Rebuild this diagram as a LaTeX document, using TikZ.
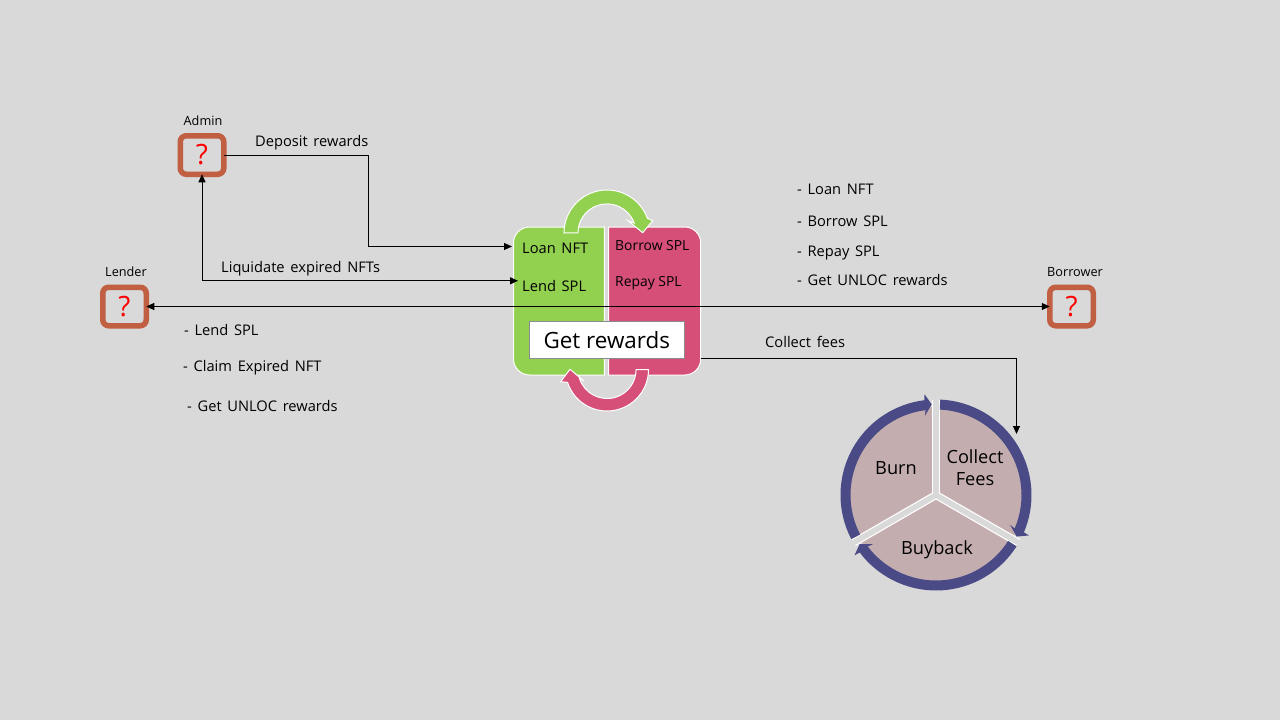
\documentclass[tikz,border=0pt]{standalone}
\usepackage{fontspec}
\setmainfont{Open Sans}
\newfontfamily\widefont[WordSpace=1.5]{Open Sans}
\usetikzlibrary{arrows.meta,calc}
\definecolor{bgc}{HTML}{D9D9D9}
\definecolor{grn}{HTML}{92D050}
\definecolor{pnk}{HTML}{D64F78}
\definecolor{rst}{HTML}{C05F41}
\definecolor{pie}{HTML}{C4ADAF}
\definecolor{pur}{HTML}{4A4A87}
\tikzset{
 x=1pt,y=1pt,
 actor/.style={draw=rst,line width=5.5pt,rounded corners=6pt,minimum width=43.5pt,minimum height=38.5pt,inner sep=0pt,outer sep=0pt,text=red,font=\fontsize{28}{30}\selectfont},
 actorlabel/.style={font=\fontsize{12.7}{14}\selectfont,inner sep=0pt},
 lbl/.style={anchor=west,inner sep=0pt,font=\widefont\fontsize{14.65}{17}\selectfont},
 lblsm/.style={anchor=west,inner sep=0pt,font=\fontsize{13.9}{17}\selectfont},
 conn/.style={draw=black,line width=0.9pt},
 tip/.style={-{Triangle[length=8pt,width=7pt]}},
 ringtxt/.style={inner sep=0pt,align=center,font=\fontsize{18.2}{22}\selectfont},
 panel/.style={draw=white,line width=1pt},
 ghost/.style={inner sep=0pt,outer sep=0pt},
}
\begin{document}
\begin{tikzpicture}
\useasboundingbox (0,0) rectangle (1280,-720);
\fill[bgc] (0,0) rectangle (1280,-720);
% panels
\path[panel,fill=grn] (604.3,-227) -- (604.3,-375) -- (529.5,-375) arc[start angle=270,end angle=180,radius=16] -- (513.5,-243) arc[start angle=180,end angle=90,radius=16] -- cycle;
\path[panel,fill=pnk] (608.7,-227) -- (608.7,-375) -- (684.7,-375) arc[start angle=-90,end angle=0,radius=16] -- (700.7,-243) arc[start angle=0,end angle=90,radius=16] -- cycle;
\node[ghost,minimum width=92pt,minimum height=148pt] (pinkpanel) at (654.7,-301) {};
% green arc
\path[panel,fill=grn] (564,-233) arc[start angle=180,end angle=20,radius=43] -- (652.7,-220.7) -- (642.7,-232.7) -- (628,-220.7) -- (634.2,-223) arc[start angle=20,end angle=180,radius=29] -- cycle;
% pink arc
\path[panel,fill=pnk] (648.5,-369.5) arc[start angle=0,end angle=-162,radius=41.5] -- (560.7,-381.7) -- (570,-369.3) -- (584,-381) -- (579.5,-378.5) arc[start angle=-162,end angle=0,radius=29] -- cycle;
% rewards
\node[draw=black!45,line width=1.2pt,fill=white,minimum width=155pt,minimum height=36.6pt,inner sep=0pt,outer sep=0pt,font=\fontsize{22.4}{26}\selectfont] (rewards) at (606.8,-340) {Get rewards};
% panel labels
\node[lbl,inner xsep=10pt] (loan) at (512,-248) {Loan NFT};
\node[lbl,inner xsep=4pt] (lend) at (518,-286) {Lend SPL};
\node[lblsm] (borrow) at (615,-246) {Borrow SPL};
\node[lblsm] (repay) at (615,-283) {Repay SPL};
% actors
\node[actor] (admin) at (202,-155) {?};
\node[actor] (lender) at (124.5,-306.5) {?};
\node[actor] (borrower) at (1071.5,-306.5) {?};
\node[actorlabel] (adminl) at (203,-121) {Admin};
\node[actorlabel] (lenderl) at (126,-272) {Lender};
\node[actorlabel] (borrowerl) at (1075,-272) {Borrower};
% connectors
\coordinate (depbend) at (368,-246.5);
\coordinate (feesin) at (1016.5,-434);
\draw[conn,tip] (admin.east) -| (depbend) -- (loan.west |- depbend);
\draw[conn,{Triangle[length=8pt,width=7pt]}-{Triangle[length=8pt,width=7pt]}] (admin.south) |- ($(lend.west)+(0,5.2)$);
\draw[conn,{Triangle[length=8pt,width=7pt]}-{Triangle[length=8pt,width=7pt]}] (lender.east) -- (borrower.west);
\draw[conn,tip] (pinkpanel.east |- rewards.south) -| (feesin);
% texts
\node[lbl] (t1) at (255,-143) {Deposit rewards};
\node[lbl] (t2) at (221,-269) {Liquidate expired NFTs};
\node[lbl] (t3) at (765,-342) {Collect fees};
\node[lbl] (t4) at (184,-330) {- Lend SPL};
\node[lbl] (t5) at (183,-368) {- Claim Expired NFT};
\node[lbl] (t6) at (187,-406) {- Get UNLOC rewards};
\node[lbl] (t7) at (797,-189) {- Loan NFT};
\node[lbl] (t8) at (797,-221) {- Borrow SPL};
\node[lbl] (t9) at (797,-253) {- Repay SPL};
\node[lbl] (t10) at (797,-280) {- Get UNLOC rewards};
% ring
\begin{scope}[shift={(936,-495)}]
\fill[pie] (0,0) circle[radius=88];
\foreach \a in {90,-30,210}{
 \draw[white,line width=8pt] (0,0) -- (\a:95);
}
\foreach \a in {90,-30,210}{
 \draw[bgc,line width=5.6pt] (0,0) -- (\a:96);
}
\foreach \r in {0,120,240}{
 \begin{scope}[rotate=\r]
 \fill[pur] (207.5:95.5) arc[start angle=207.5,end angle=97,radius=95.5] -- (96.5:101.4) -- (92.7:90.7) -- (98:80) -- (97:85.5) arc[start angle=97,end angle=207.5,radius=85.5] -- cycle;
 \end{scope}
}
\end{scope}
\node[ringtxt] (burn) at (896,-468.5) {Burn};
\node[ringtxt] (cf) at (975,-468) {Collect\\Fees};
\node[ringtxt] (buy) at (937,-550) {Buyback};
\end{tikzpicture}
\end{document}
